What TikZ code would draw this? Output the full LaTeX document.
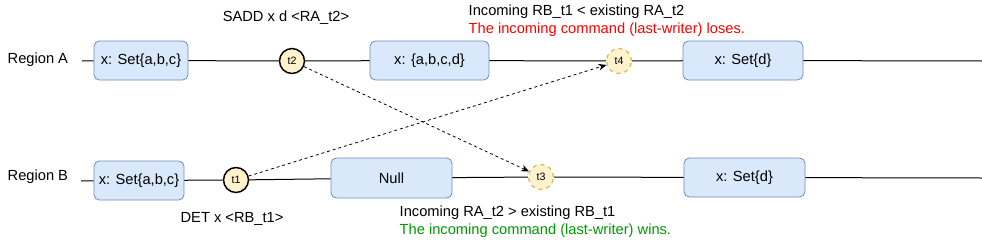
\documentclass[tikz,border=0pt]{standalone}
\usepackage{fontspec}
\setmainfont{Liberation Sans}
\usetikzlibrary{arrows.meta}
\definecolor{boxfill}{HTML}{DAE8FC}
\definecolor{boxline}{HTML}{6C8EBF}
\definecolor{stampfill}{HTML}{FFF2CC}
\definecolor{stampline}{HTML}{D6B656}
\definecolor{loseRed}{HTML}{FF0000}
\definecolor{winGreen}{HTML}{009900}

\begin{document}
\begin{tikzpicture}[
    x=0.75pt,
    y=-0.75pt,
    every node/.style={font=\fontsize{11}{13}\selectfont},
    state/.style={draw=boxline, fill=boxfill, rounded corners=4pt, line width=0.6pt,
      minimum height=29.25pt, inner sep=0pt},
    stamp/.style={circle, draw=black, fill=stampfill, line width=1.1pt,
      minimum size=18.75pt, inner sep=0pt, font=\fontsize{8}{9}\selectfont},
    remote/.style={stamp, draw=stampline, dashed, line width=0.9pt},
    timeline/.style={draw=black, line width=0.75pt},
    replicate/.style={-{Stealth[length=6pt,width=5pt]}, draw=black, line width=0.6pt,
      dash pattern=on 2.2pt off 2.2pt}
  ]
    \useasboundingbox (0,0) rectangle (982,243);
    \node[anchor=west] (regionA) at (3,60) {Region A};
    \node[anchor=west] (regionB) at (3,177) {Region B};
    \coordinate (startA) at (82,61);
    \coordinate (endA) at (982,61);
    \coordinate (startB) at (81,181);
    \coordinate (endB) at (982,178);
    \node[state, minimum width=70.5pt] (setA1) at (141,60.5) {x: Set\{a,b,c\}};
    \node[stamp] (t2) at (292,61) {t2};
    \node[state, minimum width=89.25pt] (setA2) at (429.5,60.5) {x: \{a,b,c,d\}};
    \node[remote] (t4) at (619,61) {t4};
    \node[state, minimum width=90pt] (setA3) at (743,60.5) {x: Set\{d\}};
    \node[state, minimum width=67.5pt] (setB1) at (139,180.5) {x: Set\{a,b,c\}};
    \node[stamp] (t1) at (236,180) {t1};
    \node[state, minimum width=90.75pt, minimum height=30pt] (nullB) at (391.5,178) {Null};
    \node[remote] (t3) at (541,177) {t3};
    \node[state, minimum width=90.75pt] (setB3) at (744.5,177.5) {x: Set\{d\}};
    \draw[timeline] (startA) -- (setA1) -- (t2) -- (setA2) -- (t4) -- (setA3) -- (endA);
    \draw[timeline] (startB) -- (setB1) -- (t1) -- (nullB) -- (t3) -- (setB3) -- (endB);
    \draw[replicate] (t2) -- (t3);
    \draw[replicate] (t1) -- (t4);
    \node (saddLabel) at (286,18) {SADD x d <RA\_t2>};
    \node[anchor=west] (loseTitle) at (464,12) {Incoming RB\_t1 < existing RA\_t2};
    \node[anchor=west, text=loseRed] (loseNote) at (464,30) {The incoming command (last-writer) loses.};
    \node (detLabel) at (232,219) {DET x <RB\_t1>};
    \node[anchor=west] (winTitle) at (395,213) {Incoming RA\_t2 > existing RB\_t1};
    \node[anchor=west, text=winGreen] (winNote) at (395,231) {The incoming command (last-writer) wins.};
  \end{tikzpicture}
\end{document}
